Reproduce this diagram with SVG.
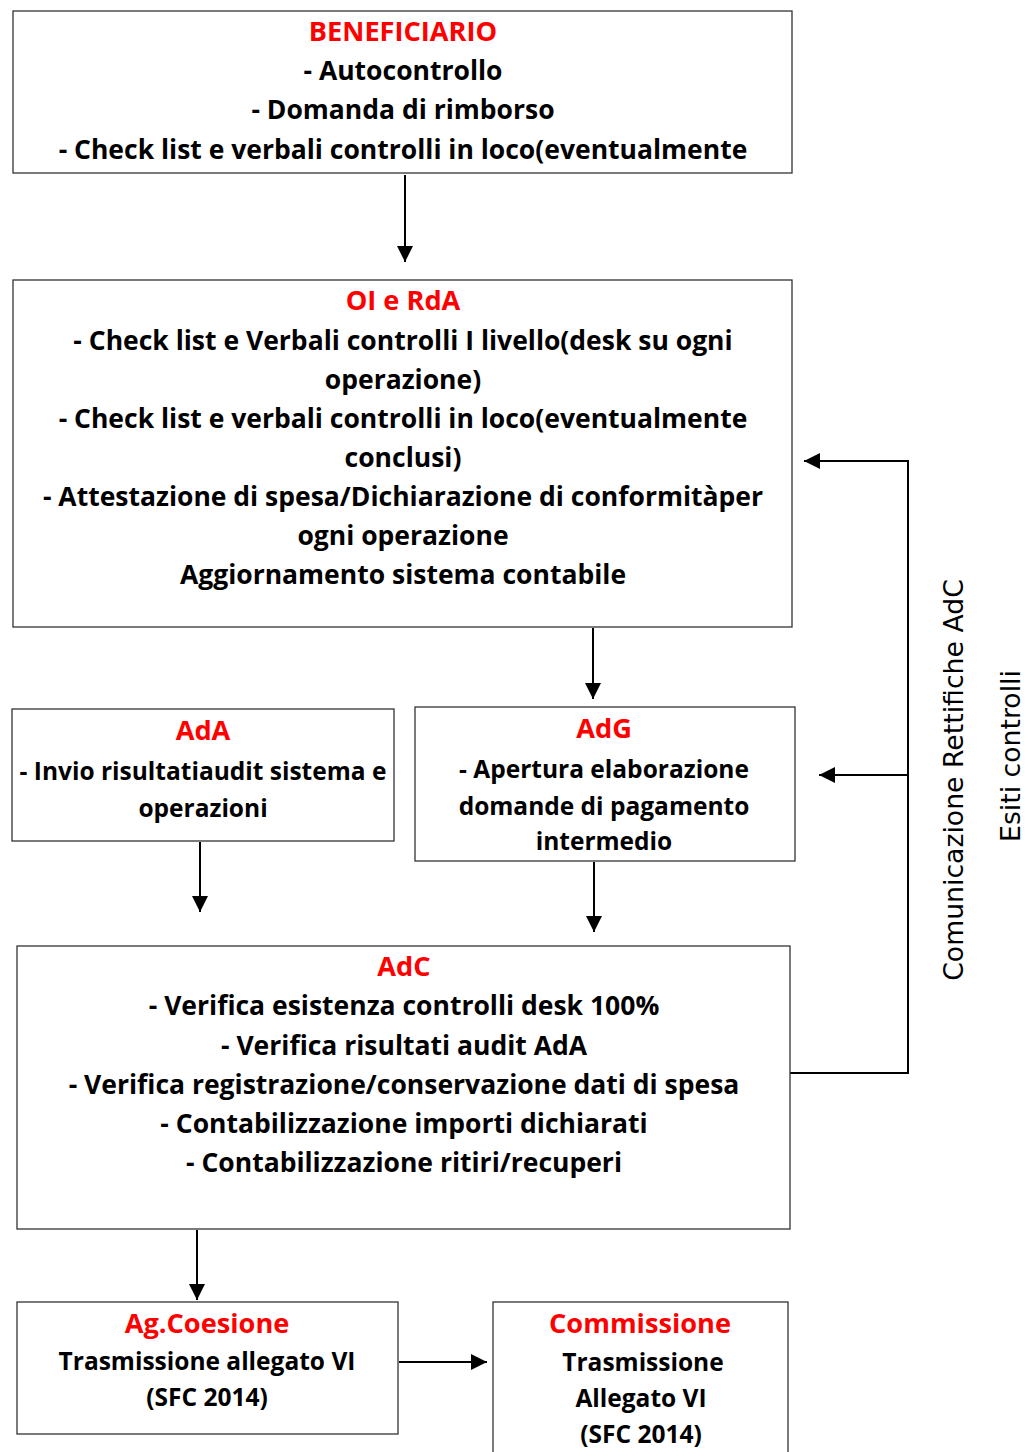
<svg xmlns="http://www.w3.org/2000/svg" width="1032" height="1452" viewBox="0 0 1032 1452">
<style>
.box{fill:#fff;stroke:#333;stroke-width:1.3}
.t{font-family:"Open Sans","Liberation Sans",sans-serif;font-weight:bold;font-size:24.5px;fill:#000;text-anchor:middle;dominant-baseline:central}
.w{font-size:26.5px}
.r{fill:#ff0000;font-size:27.2px}
.c{fill:none;stroke:#000;stroke-width:2}
.v{font-family:"DejaVu Sans",sans-serif;font-size:26.7px;fill:#000;text-anchor:middle;dominant-baseline:central}
</style>
<defs>
<marker id="ah" viewBox="0 0 10 10" refX="10" refY="5" markerWidth="16" markerHeight="16" markerUnits="userSpaceOnUse" orient="auto">
<path d="M0,0 L10,5 L0,10 z" fill="#000"/>
</marker>
</defs>
<rect width="1032" height="1452" fill="#fff"/>
<g id="connectors">
<line class="c" x1="405" y1="175" x2="405" y2="262" marker-end="url(#ah)"/>
<line class="c" x1="593" y1="628" x2="593" y2="699" marker-end="url(#ah)"/>
<line class="c" x1="200" y1="842" x2="200" y2="912" marker-end="url(#ah)"/>
<line class="c" x1="594" y1="862" x2="594" y2="932" marker-end="url(#ah)"/>
<polyline class="c" points="790,1073 908,1073 908,461 804,461" marker-end="url(#ah)"/>
<line class="c" x1="908" y1="775" x2="819" y2="775" marker-end="url(#ah)"/>
<line class="c" x1="197" y1="1230" x2="197" y2="1300" marker-end="url(#ah)"/>
<line class="c" x1="399" y1="1362" x2="487" y2="1362" marker-end="url(#ah)"/>
</g>
<g id="beneficiario">
<rect class="box" x="13" y="11" width="779" height="162"/>
<text class="t r" x="403" y="30">BENEFICIARIO</text>
<text class="t w" x="403" y="70">- Autocontrollo</text>
<text class="t w" x="403" y="109">- Domanda di rimborso</text>
<text class="t w" x="403" y="149">- Check list e verbali controlli in loco(eventualmente</text>
</g>
<g id="oi-rda">
<rect class="box" x="13" y="280" width="779" height="347"/>
<text class="t r" x="403" y="299">OI e RdA</text>
<text class="t w" x="403" y="340">- Check list e Verbali controlli I livello(desk su ogni</text>
<text class="t w" x="403" y="379">operazione)</text>
<text class="t w" x="403" y="418">- Check list e verbali controlli in loco(eventualmente</text>
<text class="t w" x="403" y="457">conclusi)</text>
<text class="t w" x="403" y="496">- Attestazione di spesa/Dichiarazione di conformitàper</text>
<text class="t w" x="403" y="535">ogni operazione</text>
<text class="t w" x="403" y="574">Aggiornamento sistema contabile</text>
</g>
<g id="ada">
<rect class="box" x="12" y="709" width="382" height="132"/>
<text class="t r" x="203" y="729">AdA</text>
<text class="t" x="203" y="770">- Invio risultatiaudit sistema e</text>
<text class="t" x="203" y="807">operazioni</text>
</g>
<g id="adg">
<rect class="box" x="415" y="707" width="380" height="154"/>
<text class="t r" x="604" y="727">AdG</text>
<text class="t" x="604" y="768">- Apertura elaborazione</text>
<text class="t" x="604" y="805">domande di pagamento</text>
<text class="t" x="604" y="840">intermedio</text>
</g>
<g id="adc">
<rect class="box" x="17" y="946" width="773" height="283"/>
<text class="t r" x="404" y="965">AdC</text>
<text class="t w" x="404" y="1005">- Verifica esistenza controlli desk 100%</text>
<text class="t w" x="404" y="1045">- Verifica risultati audit AdA</text>
<text class="t w" x="404" y="1084">- Verifica registrazione/conservazione dati di spesa</text>
<text class="t w" x="404" y="1123">- Contabilizzazione importi dichiarati</text>
<text class="t w" x="404" y="1162">- Contabilizzazione ritiri/recuperi</text>
</g>
<g id="agcoesione">
<rect class="box" x="17" y="1302" width="381" height="132"/>
<text class="t r" x="207" y="1322">Ag.Coesione</text>
<text class="t" x="207" y="1360">Trasmissione allegato VI</text>
<text class="t" x="207" y="1396">(SFC 2014)</text>
</g>
<g id="commissione">
<rect class="box" x="493" y="1302" width="295" height="160"/>
<text class="t r" x="640" y="1322">Commissione</text>
<text class="t" x="643" y="1361">Trasmissione</text>
<text class="t" x="641" y="1397">Allegato VI</text>
<text class="t" x="641" y="1433">(SFC 2014)</text>
</g>
<g id="labels">
<text class="v" transform="translate(953,780) rotate(-90)">Comunicazione Rettifiche AdC</text>
<text class="v" transform="translate(1010,756) rotate(-90)">Esiti controlli</text>
</g>
</svg>
